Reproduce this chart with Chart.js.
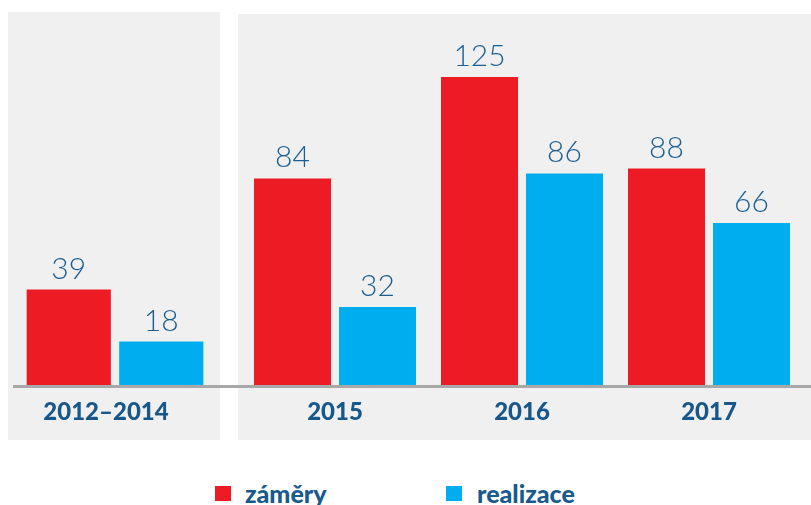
<!DOCTYPE html>
<html>

<head>
    <title>Záměry a realizace</title>
    <script src="https://cdn.jsdelivr.net/npm/chart.js"></script>
    <style>
        body { margin: 0; width: 811px; height: 505px; overflow: hidden; background: #fff; position: relative; font-family: Lato, sans-serif; }
        .panel { position: absolute; background: #f0f0f0; }
        .box { position: absolute; }
        .baseline { position: absolute; left: 13px; top: 385px; width: 798px; height: 3px; background: #a8a8a8; }
        .leg { position: absolute; top: 478px; font-weight: 900; font-size: 25px; line-height: 30px; color: #185a8c; }
        .sq { position: absolute; top: 486px; width: 16px; height: 15px; }
    </style>
</head>

<body>

    <div class="panel" style="left:8px; top:12px; width:212px; height:428px;"></div>
    <div class="panel" style="left:238px; top:14px; width:573px; height:426px;"></div>

    <div class="box" style="left:8px; top:12px; width:212px; height:428px;">
        <canvas id="leftChart"></canvas>
    </div>
    <div class="box" style="left:238px; top:12px; width:573px; height:428px;">
        <canvas id="rightChart"></canvas>
    </div>

    <div class="baseline"></div>

    <div class="sq" style="left:215px; background:#ed1c24;"></div>
    <div class="leg" style="left:245px;">záměry</div>
    <div class="sq" style="left:446px; background:#00aeef;"></div>
    <div class="leg" style="left:477px;">realizace</div>

    <script>
        // data
        const leftLabels = ['2012–2014'];
        const leftZamery = [39];
        const leftRealizace = [18];

        const rightLabels = ['2015', '2016', '2017'];
        const rightZamery = [84, 125, 88];
        const rightRealizace = [32, 86, 66];

        const RED = '#ed1c24';
        const BLUE = '#00aeef';
        const TEXT = '#1b5e92';

        // draws the numbers above bars and the year under each group
        const labelPlugin = {
            id: 'labelPlugin',
            afterDatasetsDraw(chart, args, opts) {
                const ctx = chart.ctx;
                ctx.save();
                ctx.textAlign = 'center';
                chart.data.datasets.forEach((ds, i) => {
                    const meta = chart.getDatasetMeta(i);
                    meta.data.forEach((bar, j) => {
                        ctx.fillStyle = TEXT;
                        ctx.font = '300 30px Lato';
                        ctx.textBaseline = 'alphabetic';
                        ctx.fillText(ds.data[j], bar.x, bar.y - 11);
                    });
                });
                const xScale = chart.scales.x;
                ctx.font = '900 24px Lato';
                ctx.textBaseline = 'middle';
                ctx.fillStyle = '#17578a';
                chart.data.labels.forEach((lab, j) => {
                    ctx.fillText(lab, xScale.getPixelForValue(j) + (opts.shift || 0), chart.chartArea.bottom + 26);
                });
                ctx.restore();
            }
        };

        function makeConfig(labels, zam, real, catPct, barPct, padL, padR, shift) {
            return {
                type: 'bar',
                data: {
                    labels: labels,
                    datasets: [
                        { label: 'záměry', data: zam, backgroundColor: RED, categoryPercentage: catPct, barPercentage: barPct },
                        { label: 'realizace', data: real, backgroundColor: BLUE, categoryPercentage: catPct, barPercentage: barPct }
                    ]
                },
                options: {
                    responsive: true,
                    maintainAspectRatio: false,
                    animation: false,
                    layout: { padding: { top: 28, bottom: 54, left: padL, right: padR } },
                    scales: {
                        x: { display: false },
                        y: { display: false, min: 0, max: 140 }
                    },
                    plugins: {
                        legend: { display: false },
                        tooltip: { enabled: false },
                        labelPlugin: { shift: shift }
                    }
                },
                plugins: [labelPlugin]
            };
        }

        new Chart(document.getElementById('leftChart'),
            makeConfig(leftLabels, leftZamery, leftRealizace, 0.881, 0.91, 2, 0, -9));
        new Chart(document.getElementById('rightChart'),
            makeConfig(rightLabels, rightZamery, rightRealizace, 0.909, 0.906, 3.5, 8.5, 0));
    </script>

</body>

</html>
